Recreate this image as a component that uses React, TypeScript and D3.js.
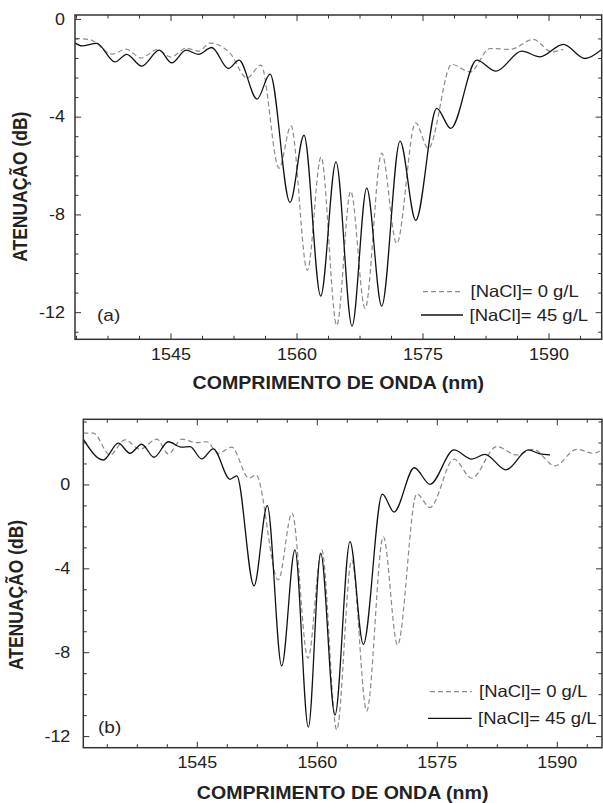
import React from 'react';
import * as d3 from 'd3';

// axis ticks
const xMajor = [1545, 1560, 1575, 1590];
const yLabels = [0, -4, -8, -12];

// (a) wavelength (nm) / attenuation (dB)
const wlA0 = [1533.57, 1535.36, 1537.98, 1539.64, 1541.43, 1543.33, 1545.0, 1546.79, 1548.33, 1549.64, 1552.02, 1554.05, 1555.71, 1557.86, 1559.29, 1561.23, 1562.86, 1564.73, 1566.39, 1568.1, 1570.08, 1571.87, 1574.11, 1575.63, 1578.42, 1580.6, 1582.98, 1585.36, 1588.13, 1590.32, 1591.7];
const dbA0 = [-0.78, -0.83, -1.42, -1.22, -1.58, -1.24, -1.54, -1.18, -1.3, -0.97, -1.38, -2.4, -1.87, -6.09, -4.36, -10.27, -5.63, -12.52, -7.03, -11.83, -5.47, -9.17, -4.23, -5.28, -1.84, -2.15, -1.19, -1.23, -0.82, -1.33, -1.22];
const wlA45 = [1533.57, 1534.37, 1536.15, 1538.33, 1539.73, 1541.51, 1543.61, 1545.08, 1546.79, 1548.25, 1549.85, 1551.82, 1553.1, 1555.24, 1556.79, 1559.17, 1560.83, 1562.82, 1564.64, 1566.55, 1568.3, 1570.08, 1572.26, 1574.13, 1576.63, 1578.3, 1581.39, 1583.69, 1586.75, 1588.93, 1591.7, 1594.29, 1596.27];
const dbA45 = [-0.96, -1.08, -0.98, -1.74, -1.43, -1.91, -1.26, -1.78, -1.26, -1.43, -1.15, -2.01, -1.67, -3.26, -2.24, -7.49, -4.74, -11.32, -5.83, -12.55, -6.9, -11.73, -4.98, -8.22, -3.64, -4.46, -1.67, -2.12, -1.3, -1.53, -1.02, -1.6, -1.23];

// (b)
const wlB0 = [1530.75, 1532.0, 1534.09, 1535.96, 1537.84, 1539.93, 1541.38, 1543.05, 1544.93, 1546.18, 1547.63, 1549.3, 1551.46, 1552.34, 1555.13, 1556.84, 1558.84, 1560.55, 1562.43, 1564.3, 1566.18, 1568.25, 1570.03, 1572.43, 1574.09, 1577.09, 1579.3, 1582.43, 1584.93, 1587.0, 1589.71, 1592.43, 1594.5, 1595.55];
const dbB0 = [2.47, 2.47, 1.43, 2.15, 1.7, 2.18, 1.48, 2.18, 2.02, 2.06, 1.51, 1.8, 0.32, 0.48, -4.53, -1.34, -8.26, -3.1, -11.68, -3.58, -10.78, -2.47, -7.63, -0.43, -1.07, 1.23, 0.32, 1.83, 1.43, 1.7, 0.91, 1.7, 1.51, 1.67];
const wlB45 = [1530.75, 1533.25, 1535.13, 1536.59, 1538.05, 1539.59, 1541.38, 1543.05, 1544.09, 1545.55, 1547.0, 1549.09, 1549.93, 1552.09, 1553.75, 1555.55, 1557.21, 1558.88, 1560.43, 1562.21, 1564.09, 1565.75, 1568.13, 1569.59, 1572.13, 1574.09, 1577.09, 1579.3, 1580.96, 1583.59, 1586.38, 1587.84, 1589.09];
const dbB45 = [2.18, 1.19, 1.99, 1.51, 1.94, 1.32, 2.06, 1.8, 1.83, 1.24, 1.72, 0.27, 0.43, -4.81, -0.99, -8.63, -3.1, -11.55, -3.26, -10.97, -2.7, -7.6, -0.44, -1.29, 0.82, 0.03, 1.67, 1.23, 1.46, 0.72, 1.67, 1.48, 1.43];

const legendNames = ['[NaCl]= 0 g/L', '[NaCl]= 45 g/L'];

const FONT = '"Liberation Sans", Arial, sans-serif';
const SX = 1.12; // the original figure is stretched horizontally
const INK = '#222';
const DASH = '#8a8a8a';

type Box = { left: number; right: number; top: number; bottom: number };

type PanelProps = {
  id: string;
  box: Box;
  xDomain: [number, number];
  yDomain: [number, number];
  yMinor: number[];
  s0: [number[], number[]];
  s45: [number[], number[]];
  tag: string;
  tagPos: [number, number];
  legend: { x1: number; x2: number; tx: number; y0: number; y1: number };
  yLabelGap: number;
  xLabelY: number;
  xTitleY: number;
  yTitle: [number, number];
};

function Panel(p: PanelProps) {
  const { box } = p;
  const x = d3.scaleLinear().domain(p.xDomain).range([box.left, box.right]);
  const y = d3.scaleLinear().domain(p.yDomain).range([box.bottom, box.top]);
  const line = d3.line<[number, number]>()
    .x(d => x(d[0]))
    .y(d => y(d[1]))
    .curve(d3.curveMonotoneX);

  const xMinor = d3.range(1530, 1600, 3.75)
    .filter(v => v > p.xDomain[0] + 0.1 && v < p.xDomain[1] - 0.1 && !xMajor.includes(v));

  const pts = (s: [number[], number[]]) => s[0].map((w, i) => [w, s[1][i]] as [number, number]);
  const isMajorY = (v: number) => yLabels.some(l => Math.abs(l - v) < 1e-6);

  return (
    <g>
      <defs>
        <clipPath id={p.id}>
          <rect x={box.left} y={box.top} width={box.right - box.left} height={box.bottom - box.top} />
        </clipPath>
      </defs>

      {/* curves */}
      <g clipPath={`url(#${p.id})`} fill="none">
        <path d={line(pts(p.s0)) || ''} stroke={DASH} strokeWidth={1.2} strokeDasharray="5,3" />
        <path d={line(pts(p.s45)) || ''} stroke="#111" strokeWidth={1.3} />
      </g>

      {/* ticks, all inward */}
      <g stroke="#333" strokeWidth={1}>
        {xMajor.map(v => (
          <g key={'xM' + v}>
            <line x1={x(v)} x2={x(v)} y1={box.bottom} y2={box.bottom - 6} />
            <line x1={x(v)} x2={x(v)} y1={box.top} y2={box.top + 6} />
          </g>
        ))}
        {xMinor.map(v => (
          <g key={'xm' + v}>
            <line x1={x(v)} x2={x(v)} y1={box.bottom} y2={box.bottom - 3.5} />
            <line x1={x(v)} x2={x(v)} y1={box.top} y2={box.top + 3.5} />
          </g>
        ))}
        {p.yMinor.map(v => {
          const len = isMajorY(v) ? 6 : 3.5;
          return (
            <g key={'y' + v}>
              <line x1={box.left} x2={box.left + len} y1={y(v)} y2={y(v)} />
              <line x1={box.right} x2={box.right - len} y1={y(v)} y2={y(v)} />
            </g>
          );
        })}
      </g>

      {/* frame */}
      <rect x={box.left} y={box.top} width={box.right - box.left} height={box.bottom - box.top}
        fill="none" stroke="#333" strokeWidth={1.5} />

      {/* tick labels */}
      <g fontFamily={FONT} fontSize={16} fill={INK}>
        {xMajor.map(v => (
          <text key={'xl' + v} transform={`translate(${x(v)},${p.xLabelY}) scale(${SX},1)`}
            textAnchor="middle" dominantBaseline="central">{v}</text>
        ))}
        {yLabels.map(v => (
          <text key={'yl' + v} transform={`translate(${box.left - p.yLabelGap},${y(v)}) scale(${SX},1)`}
            textAnchor="end" dominantBaseline="central">{v}</text>
        ))}
      </g>

      {/* axis titles */}
      <g fontFamily={FONT} fontSize={17.5} fontWeight="bold" fill={INK}>
        <text transform={`translate(${(box.left + box.right) / 2},${p.xTitleY}) scale(${SX},1)`}
          textAnchor="middle" dominantBaseline="central">COMPRIMENTO DE ONDA (nm)</text>
        <text transform={`translate(${p.yTitle[0]},${p.yTitle[1]}) scale(${SX},1) rotate(-90)`}
          textAnchor="middle" dominantBaseline="central">ATENUAÇÃO (dB)</text>
      </g>

      {/* panel tag */}
      <text transform={`translate(${p.tagPos[0]},${p.tagPos[1]}) scale(${SX},1)`}
        fontFamily={FONT} fontSize={17} fill={INK} dominantBaseline="central">{p.tag}</text>

      {/* legend */}
      <g fontFamily={FONT} fontSize={16.5} fill={INK}>
        <line x1={p.legend.x1} x2={p.legend.x2} y1={p.legend.y0} y2={p.legend.y0}
          stroke={DASH} strokeWidth={1.2} strokeDasharray="5,3" />
        <text transform={`translate(${p.legend.tx},${p.legend.y0}) scale(${SX},1)`}
          dominantBaseline="central">{legendNames[0]}</text>
        <line x1={p.legend.x1 - 2} x2={p.legend.x2} y1={p.legend.y1} y2={p.legend.y1}
          stroke="#111" strokeWidth={1.3} />
        <text transform={`translate(${p.legend.tx - 1},${p.legend.y1}) scale(${SX},1)`}
          dominantBaseline="central">{legendNames[1]}</text>
      </g>
    </g>
  );
}

export default function App() {
  return (
    <svg width={603} height={803} viewBox="0 0 603 803"
      style={{ position: 'absolute', left: 0, top: 0, background: '#fff' }}>
      <rect width={603} height={803} fill="#fff" />
      <Panel
        id="clipA"
        box={{ left: 75, right: 601.7, top: 15, bottom: 339.3 }}
        xDomain={[1533.57, 1596.27]}
        yDomain={[-13.09, 0.18]}
        yMinor={d3.range(0, -13, -0.8).map(v => +v.toFixed(2))}
        s0={[wlA0, dbA0]}
        s45={[wlA45, dbA45]}
        tag="(a)"
        tagPos={[97, 315]}
        legend={{ x1: 423, x2: 463, tx: 470.5, y0: 291.7, y1: 315 }}
        yLabelGap={10}
        xLabelY={355}
        xTitleY={382.7}
        yTitle={[20, 186.7]}
      />
      <Panel
        id="clipB"
        box={{ left: 83.3, right: 602, top: 419.3, bottom: 747.7 }}
        xDomain={[1530.75, 1595.59]}
        yDomain={[-12.53, 3.13]}
        yMinor={d3.range(3, -12.5, -1)}
        s0={[wlB0, dbB0]}
        s45={[wlB45, dbB45]}
        tag="(b)"
        tagPos={[98, 727.7]}
        legend={{ x1: 430, x2: 471.7, tx: 479, y0: 691.7, y1: 718.3 }}
        yLabelGap={13}
        xLabelY={763.3}
        xTitleY={792.5}
        yTitle={[16.5, 595]}
      />
    </svg>
  );
}
